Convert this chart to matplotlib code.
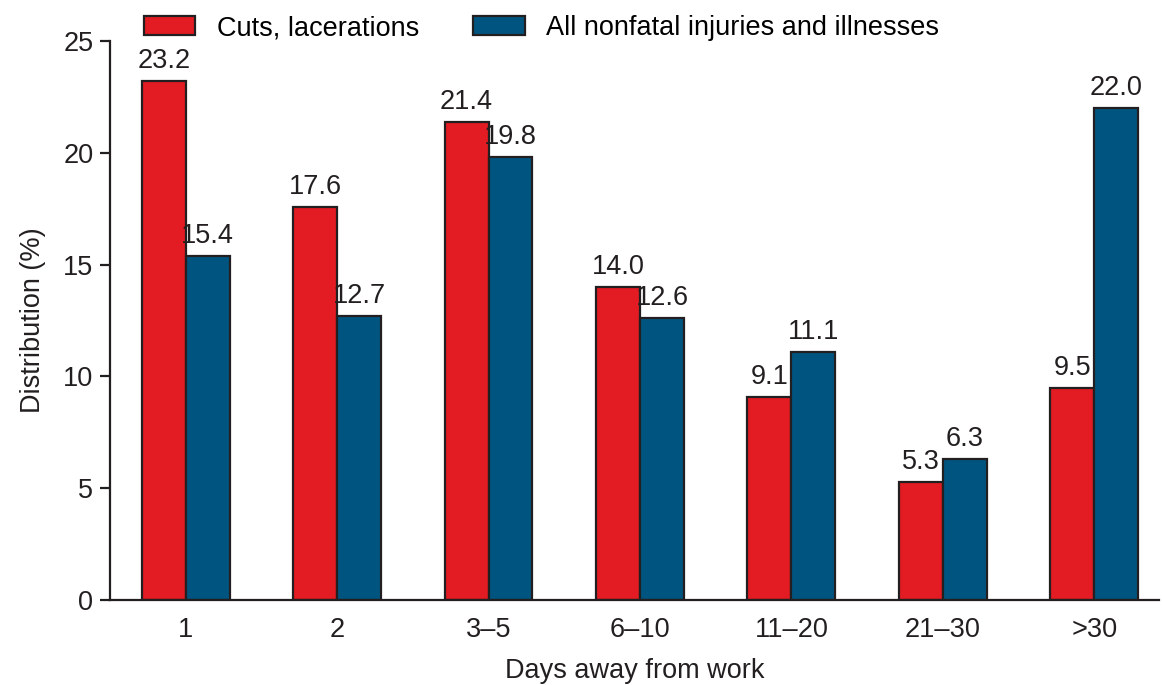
import numpy as np
from matplotlib import pyplot as plt

categories = ["1", "2", "3\u20135", "6\u201310", "11\u201320", "21\u201330", ">30"]
cuts = [23.2, 17.6, 21.4, 14.0, 9.1, 5.3, 9.5]
all_injuries = [15.4, 12.7, 19.8, 12.6, 11.1, 6.3, 22.0]
series_names = ["Cuts, lacerations", "All nonfatal injuries and illnesses"]

plt.rcParams['font.family'] = ['Liberation Sans', 'DejaVu Sans']
plt.rcParams['font.size'] = 19.5

red = "#E31B23"
blue = "#005580"
edge = "#231F20"

fig = plt.figure(figsize=(11.62, 6.85), dpi=100)
ax = fig.add_axes([0.0947, 0.124, 0.903, 0.816])

x = np.arange(len(categories))
w = 0.29
b1 = ax.bar(x - w / 2, cuts, w, color=red, edgecolor=edge, linewidth=1.6, label=series_names[0])
b2 = ax.bar(x + w / 2, all_injuries, w, color=blue, edgecolor=edge, linewidth=1.6, label=series_names[1])
ax.bar_label(b1, fmt="%.1f", padding=5, color=edge)
ax.bar_label(b2, fmt="%.1f", padding=5, color=edge)

ax.set_xlim(-0.5, 6.43)
ax.set_ylim(0, 25)
ax.set_yticks([0, 5, 10, 15, 20, 25])
ax.set_xticks(x)
ax.set_xticklabels(categories)
ax.tick_params(axis='y', length=7, width=1.6, direction='out', colors=edge, pad=5)
ax.tick_params(axis='x', length=0, pad=12, colors=edge)
for s in ['top', 'right']:
    ax.spines[s].set_visible(False)
for s in ['left', 'bottom']:
    ax.spines[s].set_linewidth(1.6)
    ax.spines[s].set_color(edge)

ax.set_ylabel("Distribution (%)", color=edge, labelpad=12)
ax.set_xlabel("Days away from work", color=edge, labelpad=11)

ax.legend(loc='lower left', bbox_to_anchor=(0.032, 1.0), ncol=2, frameon=False,
          handlelength=1.9, handleheight=0.7, columnspacing=2.0, handletextpad=0.8,
          borderaxespad=0, borderpad=0)

fig.savefig("out.png", dpi=100)
